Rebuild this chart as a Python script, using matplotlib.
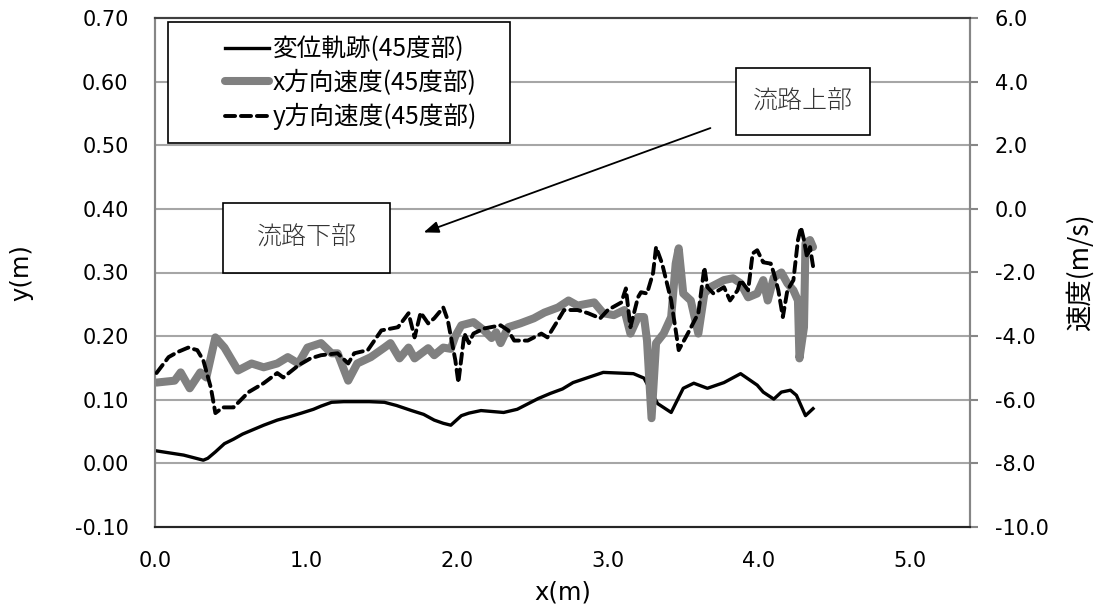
import matplotlib
matplotlib.use("Agg")
import matplotlib.pyplot as plt
from matplotlib.patches import Rectangle

plt.rcParams['font.family'] = ['DejaVu Sans', 'Noto Sans CJK JP']
CJK = ['Noto Sans CJK JP', 'DejaVu Sans']

# displacement track (left axis, m)
disp_x = [0.00, 0.19, 0.32, 0.35, 0.40, 0.46, 0.52, 0.58, 0.64, 0.72, 0.81, 0.90,
          0.97, 1.05, 1.10, 1.17, 1.25, 1.34, 1.42, 1.52, 1.60, 1.70, 1.78, 1.85,
          1.91, 1.96, 2.03, 2.08, 2.16, 2.31, 2.40, 2.54, 2.62, 2.70, 2.77, 2.87,
          2.97, 3.17, 3.24, 3.33, 3.42, 3.46, 3.50, 3.57, 3.66, 3.77, 3.88, 3.99,
          4.03, 4.10, 4.15, 4.21, 4.25, 4.31, 4.36]
disp_y = [0.020, 0.013, 0.005, 0.008, 0.018, 0.031, 0.038, 0.046, 0.052, 0.060, 0.068, 0.074,
          0.079, 0.085, 0.090, 0.096, 0.097, 0.097, 0.097, 0.096, 0.091, 0.083, 0.077, 0.068,
          0.063, 0.060, 0.075, 0.079, 0.083, 0.080, 0.085, 0.102, 0.110, 0.117, 0.127, 0.135,
          0.143, 0.141, 0.134, 0.094, 0.080, 0.099, 0.118, 0.126, 0.118, 0.127, 0.141, 0.123,
          0.112, 0.101, 0.112, 0.115, 0.107, 0.075, 0.086]

# x-direction velocity (right axis, m/s)
vx_x = [0.01, 0.13, 0.17, 0.23, 0.30, 0.34, 0.40, 0.46, 0.55, 0.64, 0.72, 0.81,
        0.88, 0.95, 1.01, 1.10, 1.17, 1.21, 1.28, 1.34, 1.43, 1.52, 1.56, 1.62,
        1.68, 1.72, 1.81, 1.85, 1.91, 1.96, 1.99, 2.03, 2.11, 2.18, 2.23, 2.26,
        2.29, 2.34, 2.42, 2.51, 2.58, 2.67, 2.74, 2.80, 2.91, 2.97, 3.04, 3.11,
        3.15, 3.20, 3.24, 3.26, 3.29, 3.32, 3.37, 3.42, 3.45, 3.47, 3.50, 3.55,
        3.60, 3.64, 3.68, 3.77, 3.83, 3.88, 3.93, 3.99, 4.03, 4.06, 4.10, 4.15,
        4.19, 4.23, 4.26, 4.27, 4.30, 4.31, 4.34, 4.36]
vx_v = [-5.46, -5.40, -5.14, -5.64, -5.14, -5.30, -4.04, -4.36, -5.08, -4.86, -4.98, -4.86,
        -4.66, -4.86, -4.36, -4.22, -4.54, -4.54, -5.40, -4.86, -4.66, -4.36, -4.22, -4.70,
        -4.36, -4.70, -4.38, -4.60, -4.36, -4.40, -4.00, -3.66, -3.56, -3.82, -4.06, -3.88,
        -4.22, -3.72, -3.60, -3.44, -3.26, -3.10, -2.88, -3.04, -2.94, -3.28, -3.34, -3.18,
        -3.92, -3.40, -3.40, -4.14, -6.58, -4.22, -3.92, -3.40, -1.72, -1.24, -2.66, -2.88,
        -3.92, -2.66, -2.46, -2.24, -2.18, -2.34, -2.78, -2.66, -2.24, -2.88, -2.16, -2.00,
        -2.34, -2.56, -2.88, -4.70, -3.72, -1.08, -0.98, -1.20]

# y-direction velocity (right axis, m/s)
vy_x = [0.01, 0.09, 0.15, 0.22, 0.28, 0.32, 0.37, 0.40, 0.45, 0.52, 0.62, 0.72,
        0.81, 0.85, 0.95, 1.03, 1.10, 1.21, 1.28, 1.32, 1.41, 1.50, 1.61, 1.68,
        1.72, 1.76, 1.81, 1.85, 1.91, 1.94, 1.99, 2.01, 2.05, 2.08, 2.11, 2.18,
        2.29, 2.34, 2.38, 2.47, 2.56, 2.60, 2.67, 2.71, 2.80, 2.87, 2.95, 3.00,
        3.09, 3.12, 3.15, 3.20, 3.22, 3.26, 3.30, 3.32, 3.36, 3.42, 3.47, 3.53,
        3.60, 3.64, 3.66, 3.70, 3.77, 3.81, 3.86, 3.88, 3.93, 3.96, 3.99, 4.03,
        4.08, 4.10, 4.13, 4.16, 4.19, 4.23, 4.26, 4.28, 4.30, 4.32, 4.34, 4.36]
vy_v = [-5.16, -4.66, -4.50, -4.36, -4.44, -4.76, -5.62, -6.42, -6.24, -6.24, -5.76, -5.48,
        -5.16, -5.30, -4.92, -4.70, -4.60, -4.54, -4.86, -4.54, -4.44, -3.82, -3.72, -3.28,
        -4.04, -3.26, -3.60, -3.44, -3.10, -3.50, -4.76, -5.46, -3.92, -4.22, -3.92, -3.76,
        -3.66, -3.82, -4.14, -4.14, -3.92, -4.04, -3.50, -3.18, -3.18, -3.28, -3.44, -3.18,
        -2.94, -2.50, -3.72, -2.78, -2.62, -2.66, -2.02, -1.20, -1.72, -2.88, -4.44, -3.92,
        -3.28, -1.84, -2.46, -2.66, -2.46, -2.88, -2.56, -2.24, -2.56, -1.40, -1.30, -1.68,
        -1.72, -2.02, -2.56, -3.40, -2.56, -2.24, -0.98, -0.58, -0.98, -1.52, -1.20, -1.80]

left_ticks = [-0.10, 0.00, 0.10, 0.20, 0.30, 0.40, 0.50, 0.60, 0.70]
right_ticks = [-10.0, -8.0, -6.0, -4.0, -2.0, 0.0, 2.0, 4.0, 6.0]
x_ticks = [0.0, 1.0, 2.0, 3.0, 4.0, 5.0]

labels = ['変位軌跡(45度部)', 'x方向速度(45度部)', 'y方向速度(45度部)']

fig = plt.figure(figsize=(11, 6.12), dpi=100)
ax = fig.add_axes([155/1100, 85/612, 815/1100, 509/612])
ax2 = ax.twinx()

grid_c = '#a6a6a6'
for t in left_ticks[1:-1]:
    ax.axhline(t, color=grid_c, lw=1.5, zorder=0)

l1, = ax.plot(disp_x, disp_y, color='black', lw=2.4, solid_joinstyle='round', zorder=3)
l2, = ax2.plot(vx_x, vx_v, color='#808080', lw=5.8, solid_joinstyle='round',
               solid_capstyle='round', zorder=2)
l3, = ax2.plot(vy_x, vy_v, color='black', lw=2.8, linestyle=(0, (2.6, 1.5)),
               dash_capstyle='round', zorder=3)

ax.set_xlim(0, 5.4)
ax.set_ylim(-0.10, 0.70)
ax2.set_ylim(-10, 6)
ax.set_xticks(x_ticks)
ax.set_xticklabels([f'{v:.1f}' for v in x_ticks])
ax.set_yticks(left_ticks)
ax.set_yticklabels([f'{v:.2f}' for v in left_ticks])
ax2.set_yticks(right_ticks)
ax2.set_yticklabels([f'{v:.1f}' for v in right_ticks])

fs = 15
ax.tick_params(axis='x', length=0, pad=17, labelsize=fs)
ax.tick_params(axis='y', length=0, pad=19, labelsize=fs)
ax2.tick_params(axis='y', length=6, color='#868686', width=1.5, pad=12, labelsize=fs)

for a in (ax, ax2):
    a.spines['left'].set_color('#868686')
    a.spines['right'].set_color('#868686')
    a.spines['top'].set_color('#404040')
    a.spines['bottom'].set_color('#262626')
    for s in a.spines.values():
        s.set_linewidth(1.5)

ax.set_xlabel('x(m)', fontsize=17.5, labelpad=7)
ax.set_ylabel('y(m)', fontsize=17.5, labelpad=30)
ax2.set_ylabel('速度(m/s)', fontsize=19, labelpad=12, family=CJK)

# legend frame and entries
ax2.add_patch(Rectangle((0.016, 0.755), 0.419, 0.237, transform=ax2.transAxes,
                        facecolor='white', edgecolor='black', lw=1.2, zorder=5))
leg = ax2.legend([l1, l2, l3], labels, loc='upper left', bbox_to_anchor=(0.071, 0.988),
                 frameon=False, borderpad=0, handlelength=1.8, handletextpad=0.15,
                 labelspacing=0.3, prop={'family': CJK, 'size': 17.7})
leg.set_zorder(6)

# text boxes
box_kw = dict(facecolor='white', edgecolor='black', lw=1.2, zorder=5)
ax.add_patch(Rectangle((3.85, 0.516), 0.89, 0.106, **box_kw))
ax.text(4.295, 0.569, '流路上部', ha='center', va='center', fontsize=18,
        family=CJK, color='#333333', fontweight='light', zorder=6)
ax.add_patch(Rectangle((0.45, 0.300), 1.11, 0.109, **box_kw))
ax.text(1.005, 0.355, '流路下部', ha='center', va='center', fontsize=18,
        family=CJK, color='#333333', fontweight='light', zorder=6)
ax.annotate('', xy=(1.78, 0.363), xytext=(3.68, 0.527),
            arrowprops=dict(arrowstyle='-|>,head_length=0.9,head_width=0.35',
                            color='black', lw=1.3, shrinkA=0, shrinkB=0), zorder=6)

fig.savefig('out.png', dpi=100)
